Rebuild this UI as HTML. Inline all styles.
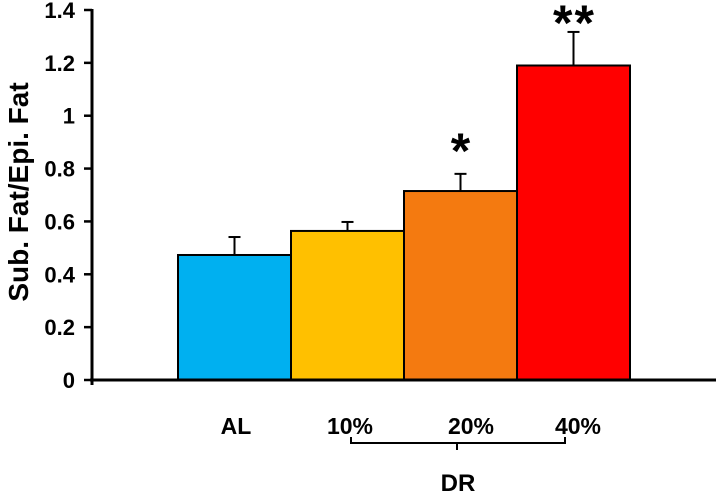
<!DOCTYPE html>
<html><head><meta charset="utf-8"><style>
body{margin:0;background:#fff;}
svg{display:block;font-family:"Liberation Sans",Arial,sans-serif;font-weight:bold;}
</style></head><body>
<svg id="chart" width="716" height="492" viewBox="0 0 716 492"></svg>
<script>
const categories=["AL","10%","20%","40%"];
const values=[0.473,0.564,0.715,1.19];
const errors=[0.068,0.034,0.065,0.127];
const colors=["#00b0f0","#ffc000","#f47a10","#ff0000"];
const sigMarks=["","","*","**"];
const tickLabels=["0","0.2","0.4","0.6","0.8","1","1.2","1.4"];
const tickValues=[0,0.2,0.4,0.6,0.8,1,1.2,1.4];
const NS="http://www.w3.org/2000/svg";
const svg=document.getElementById('chart');
const y0=380,y1=10,ymax=1.4;
function y(v){return y0-(v/ymax)*(y0-y1);}
const bx0=178,bw=113;
function x(i){return bx0+i*bw;}
function mk(t,a,p){const e=document.createElementNS(NS,t);for(const k in a)e.setAttribute(k,a[k]);(p||svg).appendChild(e);return e;}
values.forEach((v,i)=>{
  const cx=x(i)+bw/2;
  const el=mk('line',{x1:cx,x2:cx,y1:y(v),y2:y(v+errors[i]),stroke:'#000','stroke-width':2});
  
  
  const cap=mk('line',{x1:cx-6,x2:cx+6,y1:y(v+errors[i]),y2:y(v+errors[i]),stroke:'#000','stroke-width':2});
  
  
  const r=mk('rect',{x:x(i),y:y(v),width:bw,height:y(0)-y(v),fill:colors[i],stroke:'#000','stroke-width':2});
  
  
  if(sigMarks[i]){
    const t=mk('text',{x:cx+1,y:Math.max(y(v+errors[i])-6,40),'text-anchor':'middle','font-size':50,'letter-spacing':2});
    t.textContent=sigMarks[i];
    
    
  }
  const lx=[236,350,471,578][i];
  const l=mk('text',{x:lx,y:434,'text-anchor':'middle','font-size':23});
  l.textContent=categories[i];
  
  
});
const ya=mk('line',{x1:92,x2:92,y1:9,y2:385,stroke:'#000','stroke-width':3});


const xa=mk('line',{x1:90,x2:716,y1:380,y2:380,stroke:'#000','stroke-width':3});


tickValues.forEach((v,i)=>{
  const tk=mk('line',{x1:84,x2:92,y1:y(v),y2:y(v),stroke:'#000','stroke-width':2.5});
  
  
  const t=mk('text',{x:75,y:y(v)+8,'text-anchor':'end','font-size':22});
  t.textContent=tickLabels[i];
  
  
});
const yt=mk('text',{transform:'translate(28,192) rotate(-90)','text-anchor':'middle','font-size':28});
yt.textContent='Sub. Fat/Epi. Fat';


const br=mk('path',{d:'M351 437 V443 H565 V437 M457 443 V450',fill:'none',stroke:'#000','stroke-width':2});


const dr=mk('text',{x:458,y:491,'text-anchor':'middle','font-size':24});
dr.textContent='DR';


</script>
</body></html>
